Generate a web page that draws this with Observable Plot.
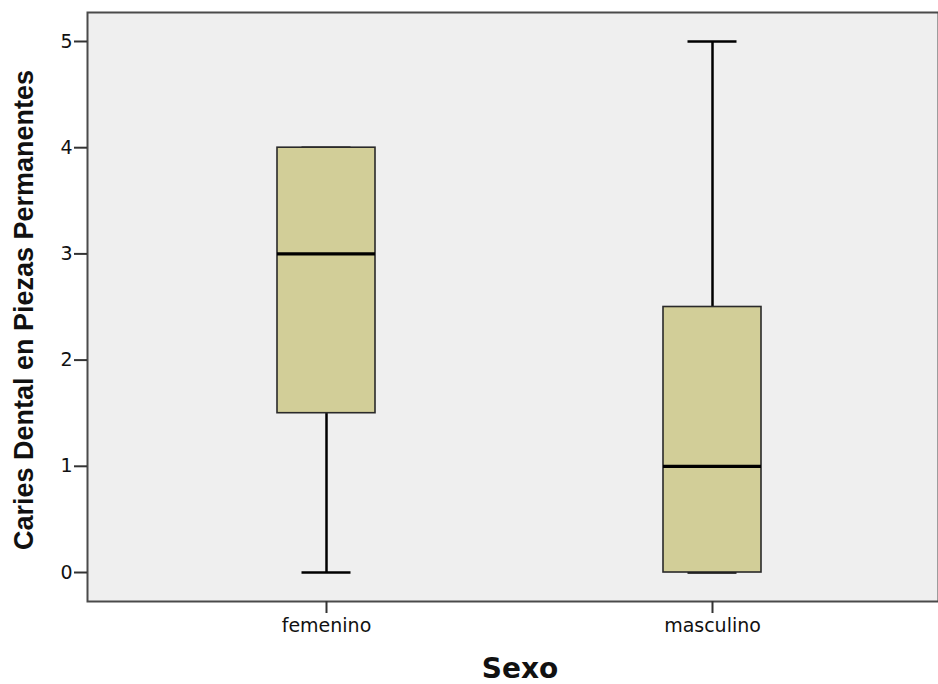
<!DOCTYPE html>
<html>
<head>
<meta charset="utf-8">
<script src="https://cdn.jsdelivr.net/npm/d3@7"></script>
<script src="https://cdn.jsdelivr.net/npm/@observablehq/plot@0.6"></script>
<style>
  html, body { margin: 0; padding: 0; background: #ffffff; }
  #chart { width: 938px; height: 684px; }
</style>
</head>
<body>
<div id="chart"></div>
<script>
// Summary statistics of the two boxes
const categories = ["femenino", "masculino"];
const mins    = [0, 0];
const q1s     = [1.5, 0];
const medians = [3, 1];
const q3s     = [4, 2.5];
const maxs    = [4, 5];
const yTicks  = [0, 1, 2, 3, 4, 5];
const xTitle = "Sexo";
const yTitle = "Caries Dental en Piezas Permanentes";

const rows = categories.map((c, i) => ({
  cat: c, min: mins[i], q1: q1s[i], median: medians[i], q3: q3s[i], max: maxs[i]
}));

const chart = Plot.plot({
  width: 938,
  height: 684,
  marginLeft: 87,
  marginRight: 0,
  marginTop: 12,
  marginBottom: 83,
  style: { fontFamily: "'DejaVu Sans', sans-serif", fontSize: "19px", color: "#111", background: "#ffffff" },
  x: {
    type: "band",
    domain: categories,
    range: [99, 938],
    paddingInner: 0.747,
    paddingOuter: 0.4575,
    align: 0.5
  },
  y: { domain: [-0.273, 5.273] },
  marks: [
    Plot.frame({ fill: "#efefef", stroke: "none" }),
    // whiskers
    Plot.ruleX(rows, { x: "cat", y1: "min", y2: "q1", stroke: "#000", strokeWidth: 2.5 }),
    Plot.ruleX(rows, { x: "cat", y1: "q3", y2: "max", stroke: "#000", strokeWidth: 2.5 }),
    // caps
    Plot.tickY(rows, { x: "cat", y: "min", stroke: "#000", strokeWidth: 2.5, insetLeft: 24.5, insetRight: 24.5 }),
    Plot.tickY(rows, { x: "cat", y: "max", stroke: "#000", strokeWidth: 2.5, insetLeft: 24.5, insetRight: 24.5 }),
    // boxes
    Plot.barY(rows, { x: "cat", y1: "q1", y2: "q3", fill: "#d2ce98", stroke: "#2a2a2a", strokeWidth: 1.6 }),
    // medians
    Plot.tickY(rows, { x: "cat", y: "median", stroke: "#000", strokeWidth: 3.2 }),
    // frame border
    Plot.frame({ stroke: "#4a4a4a", strokeWidth: 2 }),
    Plot.axisY({ ticks: yTicks, tickSize: 13, tickPadding: 2, tickFormat: d3.format("d"), label: null, stroke: "#333", strokeWidth: 2 }),
    Plot.axisX({ tickSize: 12, tickPadding: 5, label: null, stroke: "#333", strokeWidth: 2 }),
    // axis titles
    Plot.text([yTitle], {
      frameAnchor: "left", textAnchor: "middle", lineAnchor: "middle", dx: -63, dy: 3, rotate: -90,
      fontSize: 27, fontWeight: "bold", fontFamily: "'Liberation Sans', Arial, sans-serif", fill: "#111"
    }),
    Plot.text([xTitle], {
      frameAnchor: "bottom", textAnchor: "middle", lineAnchor: "middle", dx: 7, dy: 68,
      fontSize: 28, fontWeight: "bold", fontFamily: "'DejaVu Sans', sans-serif", fill: "#111"
    })
  ]
});

document.getElementById("chart").appendChild(chart);
</script>
</body>
</html>
